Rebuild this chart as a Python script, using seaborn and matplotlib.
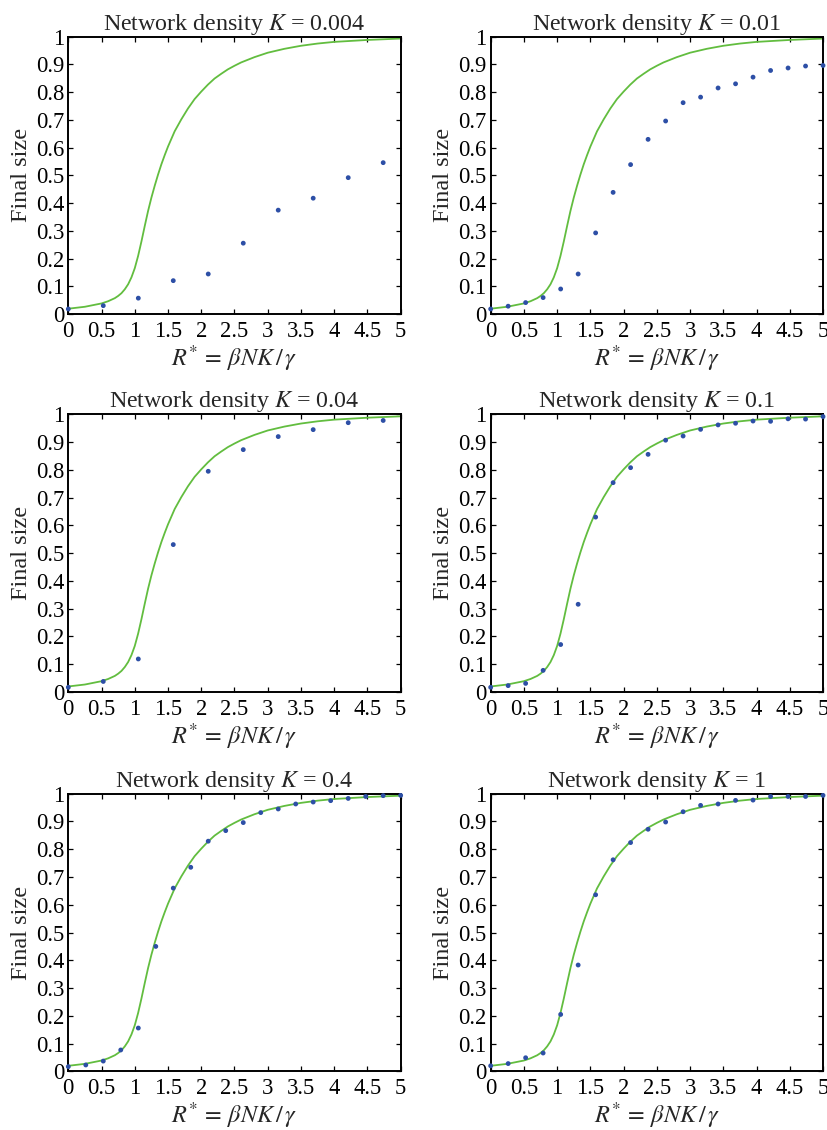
import matplotlib
matplotlib.use("Agg")
import matplotlib.pyplot as plt
import seaborn as sns
import pandas as pd

# ---------------- data ----------------
densities = ["0.004", "0.01", "0.04", "0.1", "0.4", "1"]

x_full = [0.000, 0.263, 0.526, 0.789, 1.053, 1.316, 1.579, 1.842, 2.105, 2.368,
          2.632, 2.895, 3.158, 3.421, 3.684, 3.947, 4.211, 4.474, 4.737, 5.000]
x_half = [0.000, 0.526, 1.053, 1.579, 2.105, 2.632, 3.158, 3.684, 4.211, 4.737]

y_k0004 = [0.019, 0.031, 0.058, 0.121, 0.145, 0.256, 0.375, 0.418, 0.492, 0.546]
y_k001 = [0.019, 0.029, 0.042, 0.060, 0.091, 0.145, 0.293, 0.439, 0.539, 0.630,
          0.696, 0.762, 0.782, 0.815, 0.830, 0.854, 0.878, 0.887, 0.894, 0.896]
y_k004 = [0.017, 0.038, 0.119, 0.531, 0.795, 0.873, 0.920, 0.945, 0.970, 0.978]
y_k01 = [0.017, 0.023, 0.031, 0.078, 0.171, 0.316, 0.630, 0.754, 0.808, 0.856,
         0.907, 0.922, 0.946, 0.962, 0.968, 0.976, 0.975, 0.984, 0.983, 0.992]
y_k04 = [0.017, 0.023, 0.037, 0.077, 0.156, 0.450, 0.660, 0.735, 0.829, 0.867,
         0.896, 0.932, 0.945, 0.963, 0.970, 0.975, 0.983, 0.990, 0.993, 0.994]
y_k1 = [0.020, 0.028, 0.049, 0.066, 0.205, 0.383, 0.636, 0.762, 0.824, 0.872,
        0.898, 0.935, 0.958, 0.963, 0.976, 0.977, 0.990, 0.990, 0.990, 0.994]

# theoretical (mean-field) final size curve
curve_r = [0.0, 0.25, 0.5, 0.6, 0.7, 0.75, 0.8, 0.85, 0.9, 0.95, 1.0, 1.05, 1.1,
           1.15, 1.2, 1.25, 1.3, 1.35, 1.4, 1.45, 1.5, 1.6, 1.7, 1.8, 1.9, 2.0,
           2.1, 2.2, 2.3, 2.4, 2.5, 2.6, 2.8, 3.0, 3.25, 3.5, 3.75, 4.0, 4.5, 5.0]
curve_z = [0.020, 0.027, 0.039, 0.047, 0.058, 0.066, 0.076, 0.090, 0.108, 0.133,
           0.166, 0.210, 0.262, 0.318, 0.372, 0.420, 0.463, 0.503, 0.540, 0.573,
           0.604, 0.659, 0.702, 0.741, 0.775, 0.802, 0.827, 0.849, 0.866, 0.882,
           0.895, 0.907, 0.926, 0.942, 0.956, 0.967, 0.975, 0.981, 0.988, 0.993]

x_ticks = [0, 0.5, 1, 1.5, 2, 2.5, 3, 3.5, 4, 4.5, 5]
x_tick_labels = ["0", "0.5", "1", "1.5", "2", "2.5", "3", "3.5", "4", "4.5", "5"]
y_ticks = [0, 0.1, 0.2, 0.3, 0.4, 0.5, 0.6, 0.7, 0.8, 0.9, 1]
y_tick_labels = ["0", "0.1", "0.2", "0.3", "0.4", "0.5", "0.6", "0.7", "0.8", "0.9", "1"]

panels = [
    (densities[0], x_half, y_k0004),
    (densities[1], x_full, y_k001),
    (densities[2], x_half, y_k004),
    (densities[3], x_full, y_k01),
    (densities[4], x_full, y_k04),
    (densities[5], x_full, y_k1),
]

# ---------------- style ----------------
sns.set_theme(style="ticks")
plt.rcParams["font.family"] = ["Liberation Serif", "DejaVu Serif"]
plt.rcParams["mathtext.fontset"] = "stix"

GREEN = "#62bd3f"
BLUE = "#2d4fa6"

fig = plt.figure(figsize=(8.28, 11.30), dpi=100)

lefts = [0.0825, 0.5926]
bottoms = [0.7219, 0.3876, 0.0519]
w, h = 0.4014, 0.2457

curve_df = pd.DataFrame({"R": curve_r, "z": curve_z})

for i, (kval, xs, ys) in enumerate(panels):
    row, col = divmod(i, 2)
    ax = fig.add_axes([lefts[col], bottoms[row], w, h])
    sns.lineplot(data=curve_df, x="R", y="z", ax=ax, color=GREEN, lw=1.3,
                 zorder=2, clip_on=False)
    dots = pd.DataFrame({"R": xs, "z": ys})
    sns.scatterplot(data=dots, x="R", y="z", ax=ax, color=BLUE, s=12,
                    edgecolor="none", zorder=3, clip_on=False)
    ax.set_xlim(0, 5)
    ax.set_ylim(0, 1)
    ax.set_xticks(x_ticks)
    ax.set_xticklabels(x_tick_labels)
    ax.set_yticks(y_ticks)
    ax.set_yticklabels(y_tick_labels)
    ax.tick_params(direction="in", length=3.5, width=0.9, top=True, right=True,
                   labelsize=16.3, pad=3, colors="black")
    ax.tick_params(axis="x", pad=5)
    for sp in ax.spines.values():
        sp.set_visible(True)
        sp.set_linewidth(1.4)
        sp.set_color("black")
    ax.set_xlabel(r"$R^{*}\,=\,\beta NK\,/\,\gamma$", fontsize=17.5, labelpad=1)
    ax.set_ylabel("Final size", fontsize=17.5, labelpad=3)
    ax.set_title(r"Network density $K$ = " + kval, fontsize=17.3, pad=5)

fig.savefig("out.png", dpi=100)
